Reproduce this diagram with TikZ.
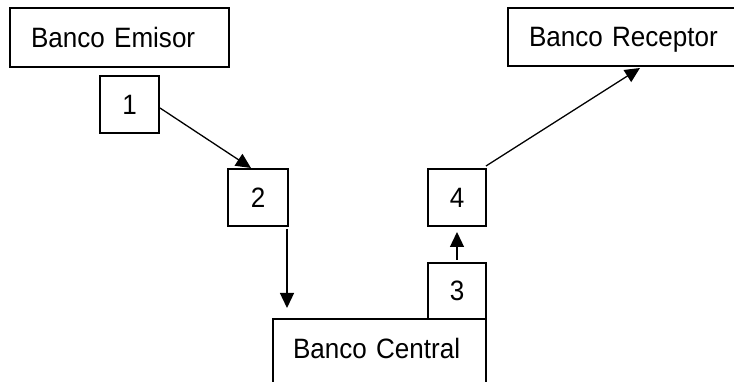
\documentclass[tikz,border=0pt]{standalone}
\usepackage{fontspec}
\setmainfont{Liberation Sans}[FakeStretch=0.93]
\usetikzlibrary{arrows.meta,calc}
\begin{document}
\begin{tikzpicture}[x=1pt,y=-1pt,
  every node/.style={font=\fontsize{28}{30}\selectfont},
  box/.style={draw,line width=1.2pt,rectangle,inner ysep=0pt,outer sep=0pt,
    text height=20pt,text depth=0pt},
  bank/.style={box,inner xsep=21pt,align=left},
  num/.style={box,inner xsep=0pt,align=center},
  conn/.style={line width=1.3pt,-{Triangle[width=14pt,length=15pt]}}]
\clip (0,0) rectangle (734,382);
\fill[white] (0,0) rectangle (734,382);
\node[bank,text width=177pt,minimum height=59pt] (emisor) at (119.5,37.5) {Banco Emisor};
\node[bank,text width=190pt,minimum height=58pt] (receptor) at (624,37) {Banco Receptor};
\node[bank,inner xsep=20pt,text width=173pt,minimum height=71pt,text depth=13pt] (central) at (379.5,354.5) {Banco Central};
\node[num,minimum width=59pt,minimum height=57pt] (b1) at (129.5,104.5) {1};
\node[num,minimum width=60pt,minimum height=57pt] (b2) at (258,197.5) {2};
\node[num,minimum width=58pt,minimum height=56pt] (b3) at (457,291) {3};
\node[num,minimum width=58pt,minimum height=57pt] (b4) at (457,197.5) {4};
\draw[conn] ([xshift=1pt,yshift=-3.5pt]b1.east) -- ([xshift=-7pt,yshift=1pt]b2.north);
\draw[conn] ([xshift=-1pt,yshift=-3pt]b2.south east) -- ([xshift=14pt,yshift=11pt]central.north west);
\draw[conn] ([yshift=3pt]b3.north) -- ([yshift=-6pt]b4.south);
\draw[conn] ([yshift=3pt]b4.north east) -- ([xshift=132pt,yshift=-2pt]receptor.south west);
\end{tikzpicture}
\end{document}
